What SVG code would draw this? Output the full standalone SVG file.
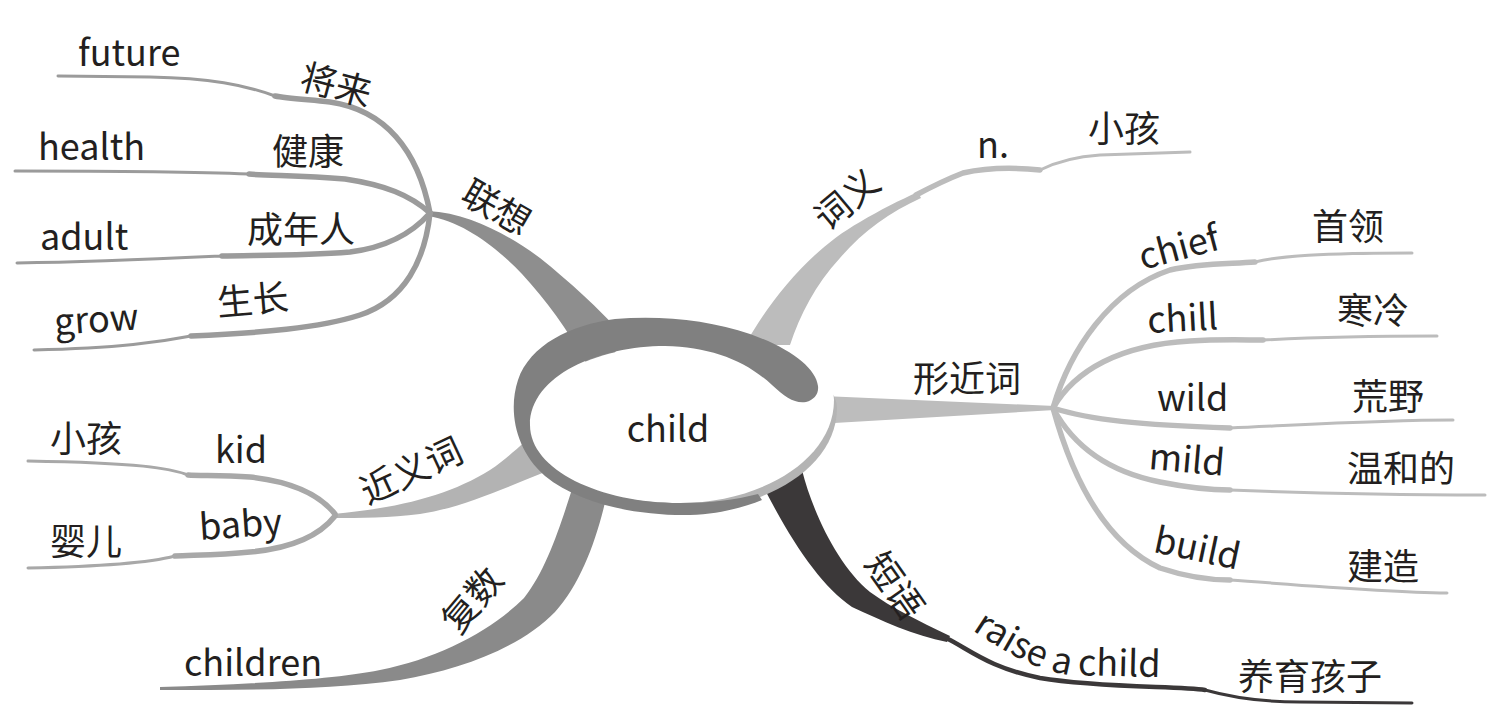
<svg xmlns="http://www.w3.org/2000/svg" width="1492" height="725" viewBox="0 0 1492 725">
<style>
.t{font-family:"Noto Sans CJK SC","Noto Sans",sans-serif;font-size:36px;fill:#231f20}
.s{fill:none;stroke-linecap:round;stroke-linejoin:round}
.w5{stroke-width:5.5}
.w3{stroke-width:3}
.g1{stroke:#9b9b9b}
.g2{stroke:#bcbcbc}
.g3{stroke:#a8a8a8}
.g4{stroke:#3b3839}
</style>
<rect width="1492" height="725" fill="#fff"/>
<g id="connectors">
  <!-- 联想 -->
  <path fill="#8e8e8e" d="M 428 211 C 470 213, 510 236, 540 258 C 570 282, 598 308, 624 336 L 600 380 L 584 360 C 568 330, 546 300, 522 274 C 498 249, 465 222, 428 216 Z"/>
  <path class="s w5 g1" d="M 430 213 C 418 150, 385 110, 330 102 C 300 99, 285 98, 275 96"/>
  <path class="s w3 g1" d="M 275 96 C 245 85, 210 78, 150 77 L 58 76"/>
  <path class="s w5 g1" d="M 430 213 C 410 195, 385 185, 345 179 C 300 175, 270 176, 249 174"/>
  <path class="s w3 g1" d="M 249 174 C 200 172, 100 171, 15 171"/>
  <path class="s w5 g1" d="M 430 213 C 415 230, 390 247, 350 252 C 300 256, 250 255, 222 256"/>
  <path class="s w3 g1" d="M 222 256 C 180 258, 100 262, 17 263"/>
  <path class="s w5 g1" d="M 430 213 C 425 260, 405 300, 360 315 C 320 328, 260 333, 191 336"/>
  <path class="s w3 g1" d="M 191 336 C 160 342, 120 348, 34 350"/>
  <!-- 词义 -->
  <path fill="#bcbcbc" d="M 745 345 C 770 300, 810 250, 860 222 C 880 210, 900 200, 918 192 L 921 198 C 890 212, 862 232, 840 258 C 815 285, 800 315, 790 345 Z"/>
  <path class="s w5 g2" d="M 916 195 C 935 185, 950 178, 963 173 C 990 167, 1020 168, 1040 170"/>
  <path class="s w3 g2" d="M 1040 170 C 1050 165, 1070 157, 1100 155 L 1190 152"/>
  <!-- 形近词 -->
  <path fill="#bdbdbd" d="M 800 395 L 1055 406 L 1055 410 L 800 425 Z"/>
  <path class="s w5 g2" d="M 1053 408 C 1070 350, 1110 290, 1170 270 C 1200 263, 1230 264, 1255 262"/>
  <path class="s w3 g2" d="M 1255 262 C 1280 256, 1320 253, 1412 253"/>
  <path class="s w5 g2" d="M 1053 408 C 1075 370, 1120 345, 1190 341 C 1220 339, 1245 340, 1263 340"/>
  <path class="s w3 g2" d="M 1263 340 C 1300 338, 1380 336, 1437 336"/>
  <path class="s w5 g2" d="M 1053 408 C 1090 420, 1140 425, 1230 428"/>
  <path class="s w3 g2" d="M 1230 428 C 1300 425, 1380 420, 1453 420"/>
  <path class="s w5 g2" d="M 1053 408 C 1070 440, 1100 470, 1160 482 C 1190 488, 1210 490, 1230 490"/>
  <path class="s w3 g2" d="M 1230 490 C 1300 493, 1400 495, 1485 495"/>
  <path class="s w5 g2" d="M 1053 408 C 1070 470, 1100 540, 1160 568 C 1190 578, 1210 580, 1230 580"/>
  <path class="s w3 g2" d="M 1230 580 C 1300 585, 1380 592, 1447 593"/>
  <!-- 近义词 -->
  <path fill="#b3b3b3" d="M 333 514 C 400 508, 450 495, 490 470 C 505 460, 515 450, 525 442 L 545 472 C 500 490, 460 508, 420 514 C 390 518, 360 518, 333 518 Z"/>
  <path class="s w5 g3" d="M 335 514 C 320 495, 295 482, 250 477 C 220 475, 200 476, 188 475"/>
  <path class="s w3 g3" d="M 188 475 C 170 468, 140 463, 28 461"/>
  <path class="s w5 g3" d="M 335 516 C 320 535, 295 548, 250 552 C 220 555, 195 555, 175 556"/>
  <path class="s w3 g3" d="M 175 556 C 160 560, 130 566, 28 568"/>
  <!-- 复数 -->
  <path fill="#8a8a8a" d="M 160 687 C 250 684, 330 680, 380 670 C 440 658, 492 630, 524 598 C 548 568, 562 520, 575 480 L 610 480 C 600 530, 584 580, 555 612 C 520 648, 460 670, 400 680 C 330 690, 250 690, 160 690 Z"/>
  <!-- 短语 -->
  <path fill="#3b3839" d="M 770 470 L 802 470 C 812 510, 837 565, 870 592 C 892 608, 917 620, 950 636 L 947 642 C 915 636, 880 620, 852 607 C 820 585, 790 540, 760 480 Z"/>
  <path class="s g4" stroke-width="4.5" d="M 948 639 C 970 650, 990 668, 1040 678 C 1100 688, 1180 686, 1205 690"/>
  <path class="s g4" stroke-width="3" d="M 1205 690 C 1230 697, 1260 702, 1300 702 L 1412 703"/>
</g>
<g id="center">
  <path fill="#b4b4b4" transform="translate(3,8)" d="M 530 425 C 530 375, 600 345, 680 345 C 760 345, 834 365, 834 400 C 834 460, 760 503, 680 503 C 590 503, 530 470, 530 425 Z"/>
  <path fill="#ffffff" d="M 530 425 C 530 375, 600 345, 680 345 C 760 345, 834 365, 834 400 C 834 460, 760 503, 680 503 C 590 503, 530 470, 530 425 Z"/>
  <path fill="#808080" d="M 818 386 C 816 368, 790 348, 750 334 C 710 320, 660 315, 615 319 C 570 325, 530 345, 518 380 C 508 410, 515 450, 545 476 C 580 505, 640 516, 690 515 C 720 514, 745 507, 762 500 L 758 494 C 735 500, 710 503, 680 503 C 600 503, 530 470, 530 425 C 530 375, 600 346, 665 346 C 710 347, 745 360, 772 385 C 785 397, 795 404, 806 402 C 814 400, 819 394, 818 386 Z"/>
  <text class="t" x="668" y="442" text-anchor="middle">child</text>
</g>
<g id="n-lianxiang">
  <text class="t" transform="translate(498,205) rotate(30)" text-anchor="middle" dominant-baseline="central">联想</text>
</g>
<g id="n-jianglai"><text class="t" transform="translate(337,82) rotate(15)" text-anchor="middle" dominant-baseline="central">将来</text></g>
<g id="n-future"><text class="t" x="78" y="66">future</text></g>
<g id="n-jiankang"><text class="t" x="272" y="165">健康</text></g>
<g id="n-health"><text class="t" x="38" y="160">health</text></g>
<g id="n-chengnianren"><text class="t" x="247" y="243">成年人</text></g>
<g id="n-adult"><text class="t" x="40" y="250">adult</text></g>
<g id="n-shengzhang"><text class="t" transform="translate(218,316) rotate(-5)">生长</text></g>
<g id="n-grow"><text class="t" transform="translate(55,335) rotate(-4)">grow</text></g>
<g id="n-ciyi"><text class="t" transform="translate(845,197) rotate(-40)" text-anchor="middle" dominant-baseline="central">词义</text></g>
<g id="n-n"><text class="t" x="977" y="158">n.</text></g>
<g id="n-xiaohai1"><text class="t" x="1088" y="142">小孩</text></g>
<g id="n-xingjinci"><text class="t" x="913" y="392">形近词</text></g>
<g id="n-chief"><text class="t" transform="translate(1178,244) rotate(-15)" text-anchor="middle" dominant-baseline="central">chief</text></g>
<g id="n-shouling"><text class="t" x="1312" y="240">首领</text></g>
<g id="n-chill"><text class="t" transform="translate(1148,333) rotate(-3)">chill</text></g>
<g id="n-hanleng"><text class="t" x="1337" y="324">寒冷</text></g>
<g id="n-wild"><text class="t" x="1157" y="411">wild</text></g>
<g id="n-huangye"><text class="t" x="1352" y="410">荒野</text></g>
<g id="n-mild"><text class="t" transform="translate(1148,469) rotate(5)">mild</text></g>
<g id="n-wenhede"><text class="t" x="1347" y="482">温和的</text></g>
<g id="n-build"><text class="t" transform="translate(1198,545) rotate(12)" text-anchor="middle" dominant-baseline="central">build</text></g>
<g id="n-jianzao"><text class="t" x="1347" y="580">建造</text></g>
<g id="n-jinyici"><text class="t" transform="translate(410,468) rotate(-25)" text-anchor="middle" dominant-baseline="central">近义词</text></g>
<g id="n-kid"><text class="t" x="215" y="463">kid</text></g>
<g id="n-xiaohai2"><text class="t" x="50" y="452">小孩</text></g>
<g id="n-baby"><text class="t" transform="translate(200,540) rotate(-4)">baby</text></g>
<g id="n-yinger"><text class="t" x="50" y="555">婴儿</text></g>
<g id="n-fushu"><text class="t" transform="translate(470,598) rotate(-50)" text-anchor="middle" dominant-baseline="central">复数</text></g>
<g id="n-children"><text class="t" x="184" y="676">children</text></g>
<g id="n-duanyu"><text class="t" transform="translate(897,584) rotate(55)" text-anchor="middle" dominant-baseline="central">短语</text></g>
<g id="n-raise">
  <defs><path id="rp" d="M 972 630 C 1005 652, 1035 670, 1070 675 L 1200 678"/></defs>
  <text class="t"><textPath href="#rp">raise a child</textPath></text>
</g>
<g id="n-yangyu"><text class="t" x="1238" y="690">养育孩子</text></g>
</svg>
